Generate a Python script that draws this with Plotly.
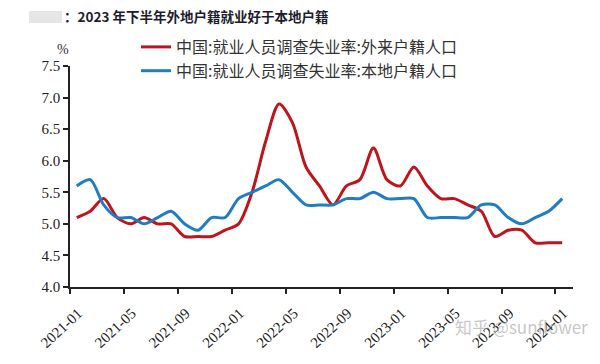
import plotly.graph_objects as go

months = [f"{y}-{m:02d}" for y in (2021, 2022, 2023) for m in range(1, 13)] + ["2024-01"]

migrant = [5.1, 5.2, 5.4, 5.1, 5.0, 5.1, 5.0, 5.0, 4.8, 4.8, 4.8, 4.9,
           5.0, 5.5, 6.3, 6.9, 6.6, 5.9, 5.6, 5.3, 5.6, 5.7, 6.2, 5.7,
           5.6, 5.9, 5.6, 5.4, 5.4, 5.3, 5.2, 4.8, 4.9, 4.9, 4.7, 4.7,
           4.7]
local = [5.6, 5.7, 5.3, 5.1, 5.1, 5.0, 5.1, 5.2, 5.0, 4.9, 5.1, 5.1,
         5.4, 5.5, 5.6, 5.7, 5.5, 5.3, 5.3, 5.3, 5.4, 5.4, 5.5, 5.4,
         5.4, 5.4, 5.1, 5.1, 5.1, 5.1, 5.3, 5.3, 5.1, 5.0, 5.1, 5.2,
         5.4]

tick_labels = ["2021-01", "2021-05", "2021-09", "2022-01", "2022-05",
               "2022-09", "2023-01", "2023-05", "2023-09", "2024-01"]
y_ticks = [4.0, 4.5, 5.0, 5.5, 6.0, 6.5, 7.0, 7.5]

name_migrant = "中国:就业人员调查失业率:外来户籍人口"
name_local = "中国:就业人员调查失业率:本地户籍人口"

RED = "#C0141C"
BLUE = "#1F7DC1"

W, H = 600, 364
L, R, T, B = 70, 27, 66, 77
PW, PH = W - L - R, H - T - B

# category-style positions: each month centred in its band
xpos = [i + 0.5 for i in range(len(months))]
tickpos = [months.index(t) for t in tick_labels]

fig = go.Figure()
fig.add_trace(go.Scatter(x=xpos, y=migrant, mode="lines", name=name_migrant,
                         line=dict(color=RED, width=3, shape="spline", smoothing=0.8)))
fig.add_trace(go.Scatter(x=xpos, y=local, mode="lines", name=name_local,
                         line=dict(color=BLUE, width=3, shape="spline", smoothing=0.8)))

fig.update_layout(
    width=W, height=H,
    margin=dict(l=L, r=R, t=T, b=B, autoexpand=False),
    paper_bgcolor="white", plot_bgcolor="white",
    showlegend=True,
    legend=dict(xref="container", yref="container",
                x=136 / W, y=1 - 30 / H, xanchor="left", yanchor="top",
                orientation="v", bgcolor="rgba(0,0,0,0)",
                font=dict(family="Noto Sans CJK SC", size=16, color="#333333"),
                tracegroupgap=0, itemwidth=30),
    xaxis=dict(range=[0, 37.3], tickmode="array", tickvals=tickpos, ticktext=tick_labels,
               tickangle=-43, ticks="outside", ticklen=5, tickwidth=1.5, tickcolor="#222",
               ticklabelshift=8, ticklabelstandoff=5,
               showline=True, linecolor="#222", linewidth=1.5, showgrid=False, zeroline=False,
               automargin=False,
               tickfont=dict(family="Liberation Serif", size=15, color="#222")),
    yaxis=dict(range=[4.0, 7.5], tickmode="array", tickvals=y_ticks,
               ticktext=[f"{v:.1f}" for v in y_ticks],
               ticks="outside", ticklen=5, tickwidth=1.5, tickcolor="#222",
               showline=True, linecolor="#222", linewidth=1.5, showgrid=False, zeroline=False,
               automargin=False,
               tickfont=dict(family="Liberation Serif", size=15, color="#222")),
)

def px(x):
    return (x - L) / PW

def py(y):
    return (H - B - y) / PH

# blurred label block in the title
fig.add_shape(type="rect", xref="paper", yref="paper",
              x0=px(29), x1=px(62), y0=py(23), y1=py(11),
              fillcolor="#e6e6e6", line=dict(width=0), layer="above")

fig.add_annotation(text="<b>：2023 年下半年外地户籍就业好于本地户籍</b>",
                   xref="paper", yref="paper", x=px(62), y=py(16),
                   xanchor="left", yanchor="middle", showarrow=False,
                   font=dict(family="Noto Sans CJK SC", size=13.5, color="#1c1c2c"))

fig.add_annotation(text="%", xref="paper", yref="paper",
                   x=px(63), y=py(49), xanchor="center", yanchor="middle",
                   showarrow=False, font=dict(family="Liberation Serif", size=14, color="#333"))

fig.add_annotation(text="知乎 @sunflower", xref="paper", yref="paper",
                   x=px(590), y=py(326), xanchor="right", yanchor="middle",
                   showarrow=False,
                   font=dict(family="Noto Sans CJK SC", size=17, color="rgba(150,150,150,0.55)"))

fig.write_html("out.html", config={"displayModeBar": False},
               post_script="document.body.style.margin='0';")
